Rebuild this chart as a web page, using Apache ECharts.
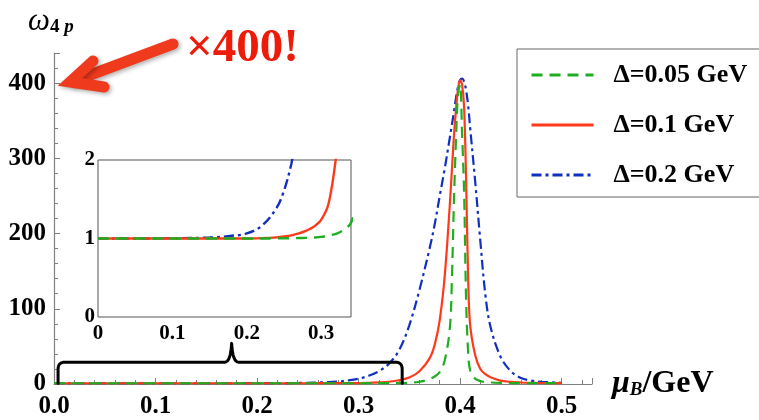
<!DOCTYPE html>
<html>
<head>
<meta charset="utf-8">
<script src="https://cdn.jsdelivr.net/npm/echarts@6.0.0/dist/echarts.min.js"></script>
<style>html,body{margin:0;padding:0;background:#fff;}#c{width:759px;height:420px;}</style>
</head>
<body>
<div id="c"></div>
<script>
// ---- data ----
var muB = [0, 0.05, 0.1, 0.15, 0.18, 0.2, 0.22, 0.24, 0.25, 0.26, 0.27, 0.28, 0.29, 0.30, 0.31,
  0.32, 0.33, 0.34, 0.35, 0.36, 0.37, 0.375, 0.38, 0.385, 0.39, 0.392, 0.394, 0.396, 0.398, 0.40,
  0.402, 0.404, 0.406, 0.408, 0.41, 0.415, 0.42, 0.425, 0.43, 0.44, 0.45, 0.46, 0.47, 0.48, 0.5];
var w005 = [1, 1, 1, 1, 1, 1, 1, 1.002, 1.003, 1.004, 1.006, 1.008, 1.012, 1.02, 1.04,
  1.06, 1.11, 1.2, 1.6, 3, 6.5, 10, 16, 32, 75, 140, 243, 325, 385, 398,
  333, 255, 110, 42, 18, 7, 4, 2.6, 2, 1.5, 1.25, 1.15, 1.1, 1.06, 1.03];
var w01 = [1, 1, 1, 1, 1, 1, 1.005, 1.015, 1.025, 1.04, 1.065, 1.1, 1.15, 1.24, 1.45,
  2.05, 3.0, 5, 8.5, 17, 34, 52, 85, 145, 240, 285, 330, 365, 392, 404,
  398, 368, 270, 140, 78, 38, 20, 13, 9, 4.5, 2.8, 2, 1.6, 1.35, 1.15];
var w02 = [1, 1, 1.003, 1.012, 1.035, 1.064, 1.16, 1.39, 1.61, 1.96, 2.5, 3.35, 4.7, 7, 11,
  17, 27, 45, 78, 125, 180, 212, 250, 287, 328, 345, 362, 380, 395, 404,
  406, 402, 390, 370, 340, 268, 190, 118, 76, 36, 17, 8, 4.5, 3, 1.6];
var seriesNames = ['\u0394=0.05 GeV', '\u0394=0.1 GeV', '\u0394=0.2 GeV'];
var xTickLabels = ['0.0', '0.1', '0.2', '0.3', '0.4', '0.5'];
var insetXLabels = ['0', '0.1', '0.2', '0.3'];
var insetYLabels = ['0', '1', '2'];

var colors = ['#1fae1f', '#ff3a1a', '#1030c0'];
var dashes = [[11, 7], 'solid', [10, 4, 3, 4]];
var values = [w005, w01, w02];
var SERIF = 'Liberation Serif';

function pairs(arr) { return muB.map(function (m, i) { return [m, arr[i]]; }); }

var chart = echarts.init(document.getElementById('c'), null, {renderer: 'canvas'});

var series = [];
for (var k = 0; k < 3; k++) {
  series.push({
    name: seriesNames[k], type: 'line', xAxisIndex: 0, yAxisIndex: 0,
    data: pairs(values[k]), showSymbol: false, symbol: 'none',
    smooth: 0.35, clip: true,
    lineStyle: {color: colors[k], width: 2.2, type: dashes[k]},
    itemStyle: {color: colors[k]}, z: 3 + (k === 0 ? 2 : k === 1 ? 1 : 0)
  });
}
for (var k2 = 0; k2 < 3; k2++) {
  series.push({
    name: seriesNames[k2], type: 'line', xAxisIndex: 1, yAxisIndex: 1,
    data: pairs(values[k2]), showSymbol: false, symbol: 'none',
    smooth: 0.35, clip: true,
    lineStyle: {color: colors[k2], width: 2.4, type: dashes[k2]},
    itemStyle: {color: colors[k2]}, z: 10 + (k2 === 0 ? 2 : k2 === 1 ? 1 : 0)
  });
}

var tickFont = {fontFamily: SERIF, fontWeight: 'bold', color: '#000'};

var option = {
  animation: false,
  backgroundColor: '#fff',
  grid: [
    {left: 54, top: 53, width: 538, height: 331, containLabel: false},
    {left: 98, top: 160, width: 253, height: 157, show: true, backgroundColor: '#fff',
     borderColor: '#555', borderWidth: 1, z: 8}
  ],
  xAxis: [
    {type: 'value', gridIndex: 0, min: 0, max: 0.53, interval: 0.1,
     axisLine: {show: true, onZero: false, lineStyle: {color: '#808080', width: 1.2}},
     axisTick: {show: true, inside: true, length: 6, lineStyle: {color: '#808080'}},
     minorTick: {show: true, splitNumber: 5, length: 4, lineStyle: {color: '#808080'}},
     splitLine: {show: false},
     axisLabel: Object.assign({fontSize: 25, margin: 10, showMaxLabel: false,
       formatter: function (v) { var i = Math.round(v * 10); return xTickLabels[i] || ''; }}, tickFont)},
    {type: 'value', gridIndex: 1, min: 0, max: 0.34, interval: 0.1,
     axisLine: {show: false}, axisTick: {show: false}, splitLine: {show: false},
     axisLabel: Object.assign({fontSize: 21, margin: 6, showMaxLabel: false,
       formatter: function (v) { var i = Math.round(v * 10); return insetXLabels[i] || ''; }}, tickFont)}
  ],
  yAxis: [
    {type: 'value', gridIndex: 0, min: 0, max: 440, interval: 100,
     axisLine: {show: true, onZero: false, lineStyle: {color: '#808080', width: 1.2}},
     axisTick: {show: true, inside: true, length: 6, lineStyle: {color: '#808080'}},
     minorTick: {show: true, splitNumber: 5, length: 4, lineStyle: {color: '#808080'}},
     splitLine: {show: false},
     axisLabel: Object.assign({fontSize: 25, margin: 8, showMaxLabel: false}, tickFont)},
    {type: 'value', gridIndex: 1, min: 0, max: 2, interval: 1,
     axisLine: {show: false}, axisTick: {show: false}, splitLine: {show: false},
     axisLabel: Object.assign({fontSize: 21, margin: 3,
       formatter: function (v) { return insetYLabels[Math.round(v)]; }}, tickFont)}
  ],
  legend: {
    data: seriesNames, orient: 'vertical', left: 517, top: 49,
    padding: [12, 40, 8, 13], itemWidth: 62, itemHeight: 20, itemGap: 22,
    borderColor: '#666', borderWidth: 1, backgroundColor: '#fff',
    itemStyle: {opacity: 0},
    lineStyle: {width: 3},
    textStyle: {fontFamily: SERIF, fontWeight: 'bold', fontSize: 26, lineHeight: 28,
      color: '#000', padding: [0, 0, 0, 15]},
    selectedMode: false
  },
  series: series,
  graphic: [
    {type: 'polyline', z: 100, shape: {points: [[173, 44], [74, 81]]},
     style: {fill: null, stroke: '#f03a1e', lineWidth: 11, lineCap: 'round', lineJoin: 'round',
       shadowBlur: 4, shadowColor: 'rgba(0,0,0,0.3)', shadowOffsetX: 2, shadowOffsetY: 2}},
    {type: 'polyline', z: 100, shape: {points: [[93, 61], [70, 82], [104, 87]]},
     style: {fill: null, stroke: '#f03a1e', lineWidth: 11, lineCap: 'round', lineJoin: 'miter',
       shadowBlur: 4, shadowColor: 'rgba(0,0,0,0.3)', shadowOffsetX: 2, shadowOffsetY: 2}},
    {type: 'text', z: 100, style: {text: '\u00d7400!', x: 186, y: 49, verticalAlign: 'middle',
      fontFamily: SERIF, fontWeight: 'bold', fontSize: 47, fill: '#ee1a0a'}},
    {type: 'text', z: 100, style: {text: '{w|\u03c9}{s|4}{p| p}', x: 28, y: 22, verticalAlign: 'middle',
      rich: {
        w: {fontFamily: SERIF, fontStyle: 'italic', fontSize: 31, fill: '#000', lineHeight: 30, verticalAlign: 'bottom'},
        s: {fontFamily: SERIF, fontWeight: 'bold', fontSize: 19, fill: '#000', lineHeight: 24, verticalAlign: 'bottom'},
        p: {fontFamily: SERIF, fontWeight: 'bold', fontStyle: 'italic', fontSize: 19, fill: '#000', lineHeight: 24, verticalAlign: 'bottom'}
      }}},
    {type: 'text', z: 100, style: {text: '{m|\u03bc}{b|B}{g|/GeV}', x: 612, y: 383, verticalAlign: 'middle',
      rich: {
        m: {fontFamily: SERIF, fontWeight: 'bold', fontStyle: 'italic', fontSize: 32, fill: '#000', lineHeight: 34, verticalAlign: 'bottom'},
        b: {fontFamily: SERIF, fontWeight: 'bold', fontStyle: 'italic', fontSize: 19, fill: '#000', lineHeight: 28, verticalAlign: 'bottom'},
        g: {fontFamily: SERIF, fontWeight: 'bold', fontSize: 32, fill: '#000', lineHeight: 34, verticalAlign: 'bottom'}
      }}}
  ]
};
chart.setOption(option);

// curly bracket marking the inset range, positioned through the main axes
var pL = chart.convertToPixel({xAxisIndex: 0, yAxisIndex: 0}, [0.004, 1]);
var pR = chart.convertToPixel({xAxisIndex: 0, yAxisIndex: 0}, [0.343, 1]);
var pT = chart.convertToPixel({xAxisIndex: 0, yAxisIndex: 0}, [0.175, 29]);
var pC = chart.convertToPixel({xAxisIndex: 0, yAxisIndex: 0}, [0.175, 54]);
var xL = pL[0], xR = pR[0], yB = pL[1], yT = pT[1], xC = pT[0], yC = pC[1];
var r = 7;
function quad(pts, p0, p1, p2) {
  for (var t = 1; t <= 8; t++) {
    var s = t / 8, a = (1 - s) * (1 - s), b = 2 * (1 - s) * s, c = s * s;
    pts.push([a * p0[0] + b * p1[0] + c * p2[0], a * p0[1] + b * p1[1] + c * p2[1]]);
  }
}
var pts = [[xL, yB], [xL, yT + r]];
quad(pts, [xL, yT + r], [xL, yT], [xL + r, yT]);
pts.push([xC - 7, yT]);
quad(pts, [xC - 7, yT], [xC - 1, yT], [xC, yC]);
quad(pts, [xC, yC], [xC + 1, yT], [xC + 7, yT]);
pts.push([xR - r, yT]);
quad(pts, [xR - r, yT], [xR, yT], [xR, yT + r]);
pts.push([xR, yB]);
option.graphic.push({type: 'polyline', z: 50, shape: {points: pts},
  style: {fill: null, stroke: '#000', lineWidth: 3, lineJoin: 'round', lineCap: 'round'}});
chart.setOption({graphic: option.graphic});
</script>
</body>
</html>
